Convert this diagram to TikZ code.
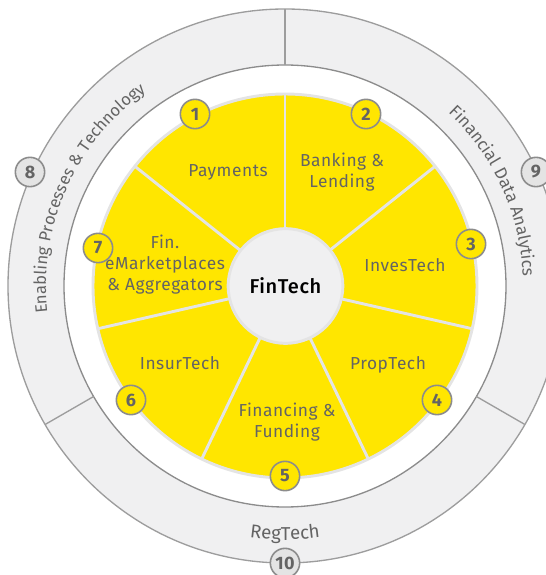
\documentclass[tikz,border=0pt]{standalone}
\usepackage{fontspec}
\setmainfont[LetterSpace=3]{Fira Sans}
\newfontfamily\medfont[LetterSpace=3]{Fira Sans Medium}
\usepackage{tikz}
\usetikzlibrary{decorations.text}
\definecolor{eyyellow}{HTML}{FFE600}
\definecolor{eylight}{HTML}{F0F0F1}
\definecolor{eyedge}{HTML}{E4E4E4}
\definecolor{eytext}{HTML}{646464}
\definecolor{eyline}{HTML}{8C8C8C}
\tikzstyle{badge} = [circle, draw=eyline, line width=1.2pt, fill=eyyellow, minimum size=22pt, inner sep=0pt, text=eytext, font=\fontsize{13.5}{13.5}\selectfont\bfseries]
\tikzstyle{ringbadge} = [badge, fill=eyedge]
\tikzstyle{label} = [text=eytext, font=\fontsize{13}{15.7}\selectfont]
\tikzstyle{spoke} = [draw=eyedge, line width=2.2pt]
\tikzstyle{divider} = [draw=eyline!85, line width=1pt]
\tikzstyle{ringtext} = [decorate, decoration={text along path, text color=eytext, text align=center}]

\begin{document}
\begin{tikzpicture}[every text node part/.style={align=center}, x=0.75pt, y=0.75pt]
   \useasboundingbox (-285,-289) rectangle (261,286);
   % Outer ring
   \fill[eylight, even odd rule] (0,0) circle (277) (0,0) circle (221);
   \draw[eyline!85, line width=1pt] (0,0) circle (277);
   \draw[eyline, line width=1pt] (0,0) circle (221);
   \draw[divider] (90:221) -- (90:277);
   \draw[divider] (210:221) -- (210:277);
   \draw[divider] (-30:221) -- (-30:277);
   % Yellow wheel
   \draw[fill=eyyellow, draw=eyedge, line width=2.2pt] (0,0) circle (192);
   \draw[spoke] (0,0) -- (90:192);
   \draw[spoke] (0,0) -- (38.57:192);
   \draw[spoke] (0,0) -- (-12.86:192);
   \draw[spoke] (0,0) -- (-64.29:192);
   \draw[spoke] (0,0) -- (-115.71:192);
   \draw[spoke] (0,0) -- (-167.14:192);
   \draw[spoke] (0,0) -- (141.43:192);
   % Place nodes
   \node [circle, fill=eylight, draw=eyedge, line width=2.2pt, minimum size=86pt, font=\fontsize{15}{17}\selectfont\medfont, text=black] (hub) at (0.5,0) {FinTech};
   \node [label] (payments) at (-57,114) {Payments};
   \node [label] (banking) at (57,114) {Banking \&\\Lending};
   \node [label] (invest) at (120,21) {InvesTech};
   \node [label] (prop) at (103,-79) {PropTech};
   \node [label] (financing) at (2,-136) {Financing \&\\Funding};
   \node [label] (insur) at (-105,-77) {InsurTech};
   \node [label] (market) at (-120,21) {Fin.\\eMarketplaces\\\& Aggregators};
   % Numbered badges
   \node [badge] (b1) at (-90,172) {1};
   \node [badge] (b2) at (81,172) {2};
   \node [badge] (b3) at (186,42) {3};
   \node [badge] (b4) at (152,-114) {4};
   \node [badge] (b5) at (0,-190) {5};
   \node [badge] (b6) at (-154,-114) {6};
   \node [badge] (b7) at (-187,38) {7};
   \node [ringbadge] (b8) at (-255,114) {8};
   \node [ringbadge] (b9) at (251,114) {9};
   \node [ringbadge] (b10) at (0,-277) {10};
   % Ring captions
   \path[ringtext, decoration={text={|\fontsize{12.5}{13}\selectfont|Enabling Processes {\&} Technology}}] (192:239) arc (192:120:239);
   \path[ringtext, decoration={text={|\fontsize{12.8}{13}\selectfont|Financial Data Analytics}}] (49.5:238) arc (49.5:-0.5:238);
   \path[ringtext, decoration={text={|\fontsize{14}{14}\selectfont|RegTech}}] (-110:254) arc (-110:-70:254);
\end{tikzpicture}
\end{document}
